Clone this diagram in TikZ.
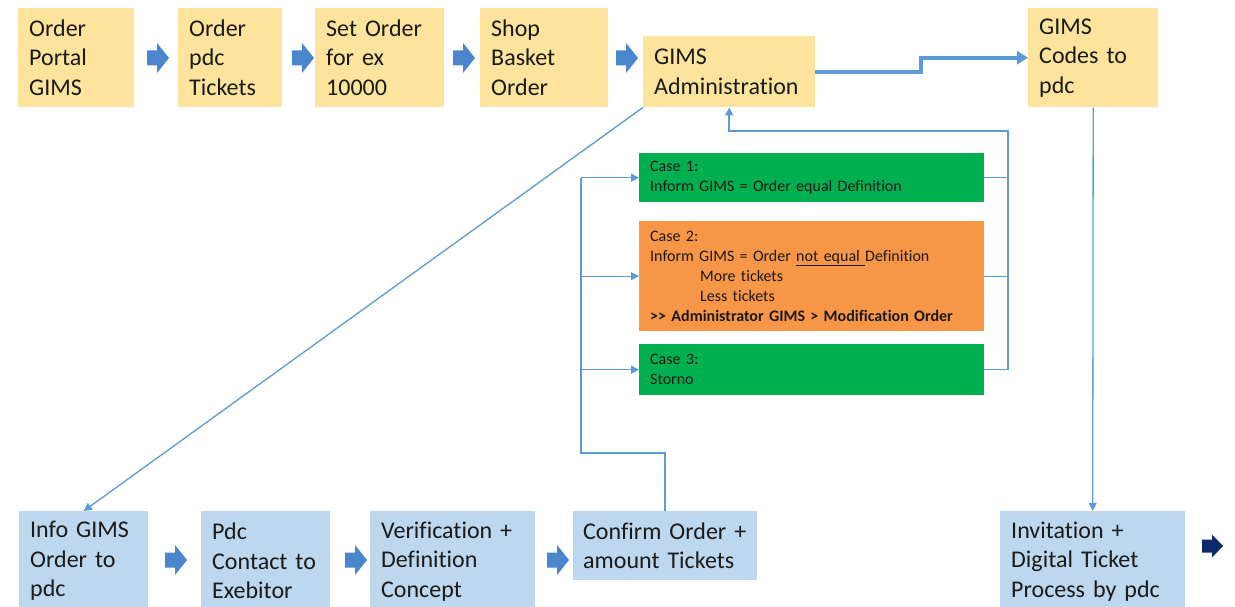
\documentclass[tikz,border=0pt]{standalone}
\usepackage{fontspec}
\newfontfamily\calfont{Carlito}[Ligatures=NoCommon]
\usetikzlibrary{arrows.meta}
\definecolor{yel}{HTML}{FDE39B}
\definecolor{lblue}{HTML}{BDD7EE}
\definecolor{cgreen}{HTML}{00B050}
\definecolor{corange}{HTML}{F79646}
\definecolor{lineblue}{HTML}{5B9BD5}
\definecolor{arrblue}{HTML}{4A86CC}
\definecolor{navy}{HTML}{0C2A6B}
\definecolor{txt}{HTML}{1A1A1A}
\begin{document}
\begin{tikzpicture}[x=1pt,y=-1pt,
  box/.style={anchor=north west, inner xsep=11pt, inner ysep=0pt, align=left, text=txt,
    font=\calfont\fontsize{24}{29.5}\selectfont},
  ybox/.style={box, fill=yel},
  bbox/.style={box, fill=lblue},
  cbox/.style={anchor=north west, inner xsep=11pt, inner ysep=0pt, align=left, text=txt,
    font=\calfont\fontsize{16}{20}\selectfont, text width=323pt},
  thickl/.style={draw=lineblue, line width=4pt},
  fbl/.style={draw=lineblue, line width=2.5pt},
  thinl/.style={draw=lineblue, line width=1.3pt},
  tipbig/.style={-{Triangle[length=11pt,width=13pt]}},
  tipsmall/.style={-{Triangle[length=8pt,width=8pt]}},
  barrow/.pic={\fill (0,-7.5) -- (10,-7.5) -- (10,-15) -- (22,0) -- (10,15) -- (10,7.5) -- (0,7.5) -- cycle;},
  darrow/.pic={\fill (0,-6.5) -- (10,-6.5) -- (10,-11.5) -- (21,0) -- (10,11.5) -- (10,6.5) -- (0,6.5) -- cycle;}
]
\useasboundingbox (0,0) rectangle (1235,607);
\fill[white] (0,0) rectangle (1235,607);

% top row
\node[ybox, text width=94pt, minimum height=99pt] (b1) at (18,8) {Order\\Portal\\GIMS};
\node[ybox, text width=82pt, minimum height=99pt] (b2) at (178,8) {Order\\pdc\\Tickets};
\node[ybox, text width=107pt, minimum height=99pt] (b3) at (315,8) {Set Order\\for ex\\10000};
\node[ybox, text width=106pt, minimum height=99pt] (b4) at (480,8) {Shop\\Basket\\Order};
\node[ybox, text width=150pt, minimum height=71pt] (adm) at (643,36) {GIMS\\Administration};
\node[ybox, text width=108pt, minimum height=99pt] (codes) at (1028,8) {GIMS\\Codes to\\pdc};

\pic[arrblue] at (147,58) {barrow};
\pic[arrblue] at (292,58) {barrow};
\pic[arrblue] at (453,58) {barrow};
\pic[arrblue] at (616,58) {barrow};

% case boxes
\node[cbox, fill=cgreen, minimum height=49pt] (c1) at (639,153)
  {Case 1:\\Inform GIMS = Order equal Definition};
\node[cbox, fill=corange, minimum height=110pt] (c2) at (639,221)
  {Case 2:\\Inform GIMS = Order \underline{not equal\ }Definition\\
   \hspace*{50pt}More tickets\\\hspace*{50pt}Less tickets\\
   \textbf{>> Administrator GIMS > Modification Order}};
\node[cbox, fill=cgreen, minimum height=51pt] (c3) at (639,344)
  {Case 3:\\Storno};

% bottom row
\node[bbox, text width=107pt, minimum height=100pt] (info) at (19,511) {Info GIMS\\Order to\\pdc};
\node[bbox, text width=107pt, minimum height=100pt] (pdc) at (201,511) {Pdc\\Contact to\\Exebitor};
\node[bbox, text width=143pt, minimum height=100pt] (ver) at (370,511) {Verification +\\Definition\\Concept};
\node[bbox, text width=164pt, inner xsep=10pt, minimum height=69pt] (conf) at (573,511) {\mbox{Confirm Order +}\\amount Tickets};
\node[bbox, text width=163pt, minimum height=100pt] (inv) at (1000,511) {Invitation +\\Digital Ticket\\Process by pdc};

\pic[arrblue] at (165,560) {barrow};
\pic[arrblue] at (345,560) {barrow};
\pic[arrblue] at (547,560) {barrow};
\pic[navy] at (1202,546) {darrow};

% connectors
\coordinate (stp) at (921,0);
\draw[thickl, tipbig] (adm.east) -- (adm.east -| stp) -- (stp |- codes.west) -- (codes.west);
\draw[thinl, tipsmall] (adm.south west) -- (info.north);
\draw[thinl, tipsmall] (codes.south) -- (inv.north);

\coordinate (fbc) at (1008,131);
\draw[thinl] (c1.east) -- (c1.east -| fbc);
\draw[thinl] (c2.east) -- (c2.east -| fbc);
\draw[thinl] (c3.east) -- (c3.east -| fbc);
\draw[fbl, tipsmall] (c3.east -| fbc) -- (fbc) -| (adm.south);

\coordinate (lc) at (581,453);
\draw[fbl] (conf.north) |- (lc) -- (lc |- c1.west);
\draw[thinl, tipsmall] (lc |- c1.west) -- (c1.west);
\draw[thinl, tipsmall] (lc |- c2.west) -- (c2.west);
\draw[thinl, tipsmall] (lc |- c3.west) -- (c3.west);
\end{tikzpicture}
\end{document}
